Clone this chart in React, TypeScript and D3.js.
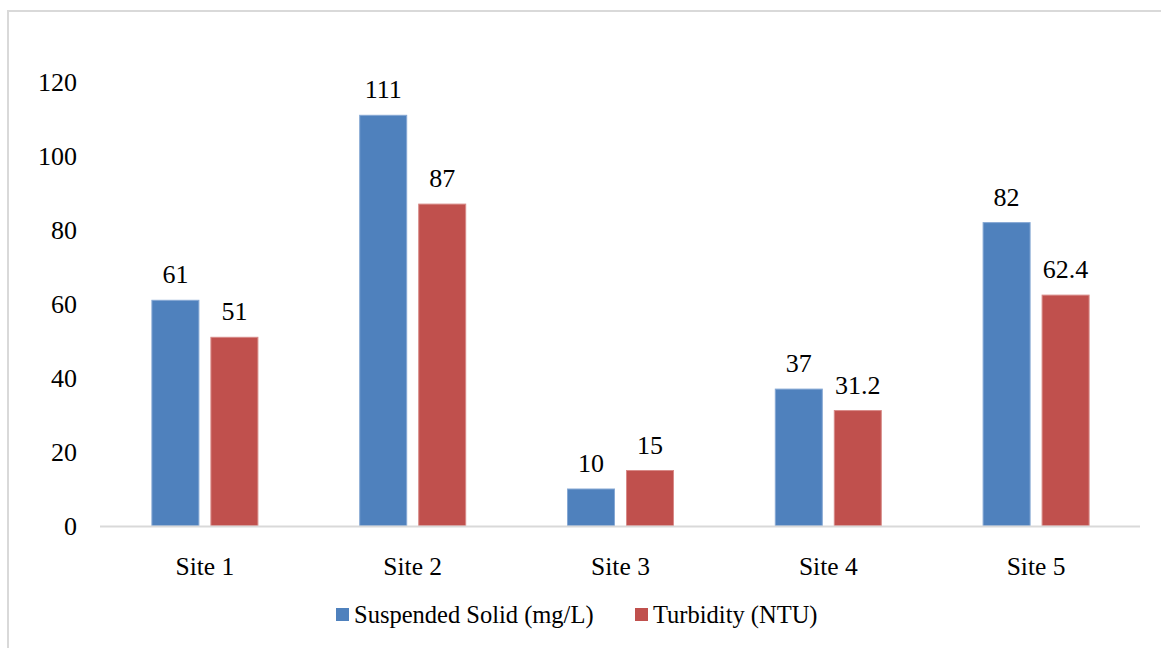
import React from "react";
import * as d3 from "d3";

const sites = ["Site 1", "Site 2", "Site 3", "Site 4", "Site 5"];
const suspendedSolid = [61, 111, 10, 37, 82];
const turbidity = [51, 87, 15, 31.2, 62.4];
const yTicks = [0, 20, 40, 60, 80, 100, 120];
const seriesNames = ["Suspended Solid (mg/L)", "Turbidity (NTU)"];
const seriesColors = ["#4f81bd", "#c0504d"];
const seriesEdges = ["#86a8d4", "#d88a88"];

const W = 1161;
const H = 648;
const FONT = "'Liberation Serif', 'Times New Roman', serif";

export default function App() {
  const x = d3.scaleBand<string>().domain(sites).range([101, 1140]).paddingInner(0).paddingOuter(0);
  const y = d3.scaleLinear().domain([0, 120]).range([526, 82]);
  const barW = 47;
  const gap = 12;
  const series = [suspendedSolid, turbidity];

  return (
    <svg
      width={W}
      height={H}
      style={{ position: "absolute", left: 0, top: 0, background: "#fff" }}
      fontFamily={FONT}
    >
      {/* chart frame */}
      <rect x={8} y={11} width={W + 10} height={H + 10} fill="#fff" stroke="#d9d9d9" strokeWidth={2} />

      {/* value axis labels */}
      {yTicks.map((t) => (
        <text key={t} x={77} y={y(t)} textAnchor="end" dominantBaseline="central" fontSize={26} fill="#000">
          {t}
        </text>
      ))}

      {/* bars and data labels */}
      {sites.map((s, i) => {
        const cx = (x(s) as number) + x.bandwidth() / 2;
        return (
          <g key={s}>
            {series.map((vals, k) => {
              const bx = k === 0 ? cx - gap / 2 - barW : cx + gap / 2;
              const v = vals[i];
              return (
                <g key={k}>
                  <rect
                    x={bx}
                    y={y(v)}
                    width={barW}
                    height={y(0) - y(v)}
                    fill={seriesColors[k]}
                    stroke={seriesEdges[k]}
                    strokeWidth={1}
                  />
                  <text x={bx + barW / 2} y={y(v) - 17} textAnchor="middle" fontSize={26} fill="#000">
                    {v}
                  </text>
                </g>
              );
            })}
            <text x={cx} y={575} textAnchor="middle" fontSize={25.5} fill="#000">
              {s}
            </text>
          </g>
        );
      })}

      {/* category axis line */}
      <line x1={100} x2={1140} y1={y(0) + 0.5} y2={y(0) + 0.5} stroke="#d9d9d9" strokeWidth={2} />

      {/* legend */}
      {seriesNames.map((n, k) => {
        const lx = k === 0 ? 336 : 635;
        return (
          <g key={n}>
            <rect x={lx} y={608} width={13} height={13} fill={seriesColors[k]} />
            <text x={lx + 18} y={623} fontSize={24.5} fill="#000">
              {n}
            </text>
          </g>
        );
      })}
    </svg>
  );
}
